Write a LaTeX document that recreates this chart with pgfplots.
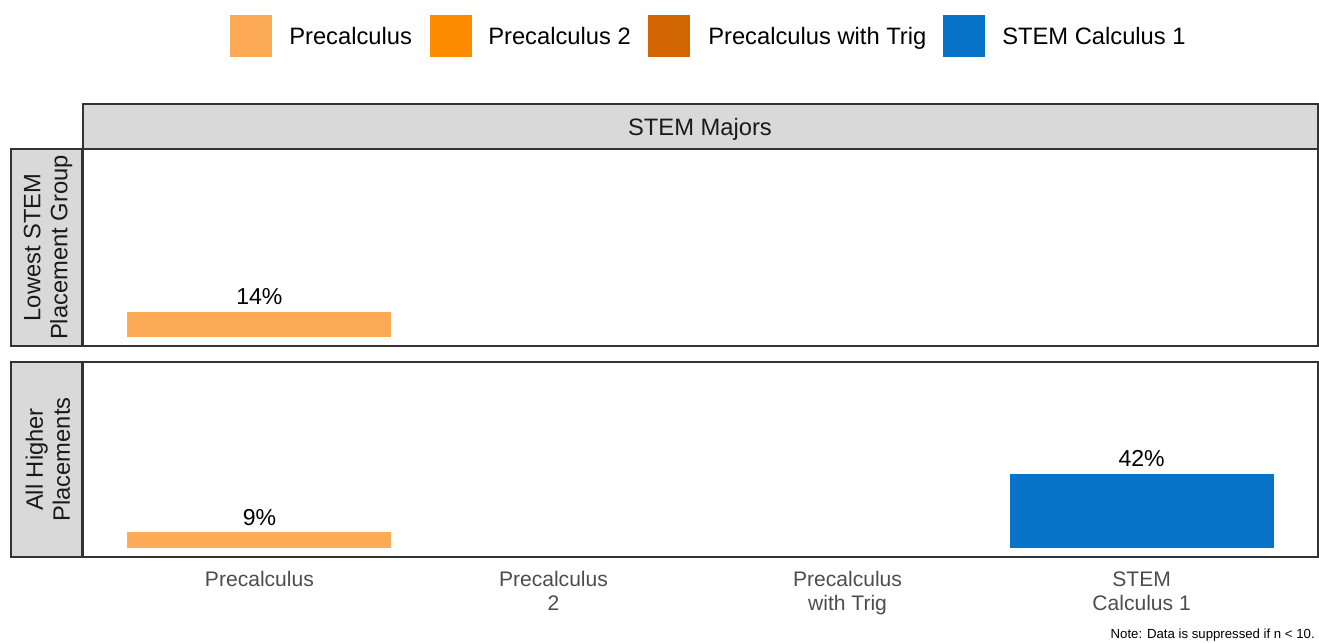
\documentclass[border=0pt]{standalone}
\usepackage{pgfplots}
\pgfplotsset{compat=1.18}
\usepackage{fontspec}
\setmainfont{Liberation Sans}
\definecolor{pcA}{HTML}{FDAA56}
\definecolor{pcB}{HTML}{FF8C00}
\definecolor{pcC}{HTML}{D26600}
\definecolor{stemc}{HTML}{0774CA}
\definecolor{bordc}{HTML}{333333}
\definecolor{stripfill}{HTML}{D9D9D9}
\definecolor{ticktext}{HTML}{4D4D4D}
\definecolor{striptext}{HTML}{1A1A1A}
\pgfplotsset{
  panel/.style={
    anchor=south west, scale only axis, width=926.25pt,
    xmin=0.4, xmax=4.6, ymin=-5, ymax=105,
    axis line style={draw=bordc, line width=1.4pt},
    ytick=\empty, tick style={draw=none}, major tick length=0pt,
    clip=false,
    /pgf/number format/assume math mode=true,
  },
  valbar/.style={
    ybar, bar width=198pt, bar shift=0pt, draw=none, fill=#1,
    point meta=y,
    nodes near coords={\pgfmathprintnumber{\pgfplotspointmeta}\%},
    every node near coord/.append style={font=\fontsize{17.3}{20}\selectfont, text=black, anchor=base, yshift=5.25pt},
  },
}
\begin{document}
\begin{tikzpicture}[x=0.75pt,y=-0.75pt]
\useasboundingbox (0,0) rectangle (1319,642);
% legend
\fill[pcA] (230,15) rectangle (272,57);
\node[anchor=base west, inner sep=0pt, font=\fontsize{17.8}{20}\selectfont] at (289,44.5) {Precalculus};
\fill[pcB] (430,15) rectangle (472,57);
\node[anchor=base west, inner sep=0pt, font=\fontsize{17.8}{20}\selectfont] at (488,44.5) {Precalculus 2};
\fill[pcC] (648,15) rectangle (690,57);
\node[anchor=base west, inner sep=0pt, font=\fontsize{17.8}{20}\selectfont] at (708,44.5) {Precalculus with Trig};
\fill[stemc] (943,15) rectangle (985,57);
\node[anchor=base west, inner sep=0pt, font=\fontsize{17.8}{20}\selectfont] at (1002,44.5) {STEM Calculus 1};

% top panel
\begin{axis}[panel, at={(62.25pt,-259.5pt)}, height=147.75pt, xtick=\empty]
\addplot[valbar=pcA] coordinates {(1,14)};
\end{axis}
% bottom panel
\begin{axis}[panel, at={(62.25pt,-417.75pt)}, height=146.25pt,
  xtick={1,2,3,4},
  xticklabels={Precalculus,{Precalculus\\2},{Precalculus\\with Trig},{STEM\\Calculus 1}},
  xticklabel style={align=center, font=\fontsize{15.8}{18}\selectfont, text=ticktext, anchor=north, yshift=-7.5pt}]
\addplot[valbar=pcA] coordinates {(1,9)};
\addplot[valbar=stemc] coordinates {(4,42)};
\end{axis}

% strips
\draw[fill=stripfill, draw=bordc, line width=1.4pt] (83,104) rectangle (1318,149);
\node[anchor=base, font=\fontsize{17.8}{20}\selectfont, text=striptext] at (700,135) {STEM Majors};
\draw[fill=stripfill, draw=bordc, line width=1.4pt] (11,149) rectangle (82,346);
\node[rotate=90, align=center, font=\fontsize{17.8}{20.25}\selectfont, text=striptext] at (48,247.5) {Lowest STEM\\Placement Group};
\draw[fill=stripfill, draw=bordc, line width=1.4pt] (11,362) rectangle (82,557);
\node[rotate=90, align=center, font=\fontsize{17.8}{20.25}\selectfont, text=striptext] at (48,459.5) {All Higher\\Placements};

\node[anchor=base east, inner sep=0pt, font=\fontsize{9.9}{12}\selectfont] at (1315,638) {Note: Data is suppressed if n < 10.};
\end{tikzpicture}
\end{document}
